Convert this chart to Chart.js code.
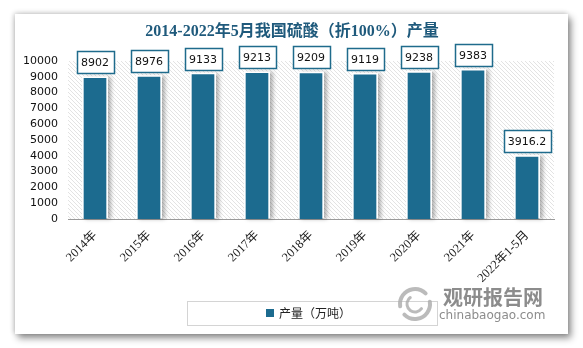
<!DOCTYPE html>
<html>
<head>
<meta charset="utf-8">
<script src="https://cdn.jsdelivr.net/npm/chart.js@4.4.1/dist/chart.umd.min.js"></script>
<style>
  html, body { margin: 0; padding: 0; background: #ffffff; width: 583px; height: 348px; overflow: hidden; }
  #card { position: absolute; left: 15px; top: 14px; width: 553px; height: 320px; background: #ffffff;
          box-shadow: 3px 4px 7px rgba(0,0,0,0.45), -1px -1px 5px rgba(0,0,0,0.2); }
  #c { position: absolute; left: 0; top: 0; }
</style>
</head>
<body>
<div id="card"></div>
<canvas id="c" width="583" height="348"></canvas>
<script>
// Sulphuric acid output (100% basis), 10k tonnes
const titleText = '2014-2022年5月我国硫酸（折100%）产量';
const categories = ['2014年', '2015年', '2016年', '2017年', '2018年', '2019年', '2020年', '2021年', '2022年1-5月'];
const output = [8902, 8976, 9133, 9213, 9209, 9119, 9238, 9383, 3916.2];
const seriesName = '产量（万吨）';
const yTicks = { min: 0, max: 10000, step: 1000 };

const BAR = '#1c6b8f';
const CJK = '"Noto Sans CJK SC"';

// diagonal hatch used behind the bars
function hatchPattern(ctx) {
  const s = 4;
  const p = document.createElement('canvas');
  p.width = s; p.height = s;
  const g = p.getContext('2d');
  g.fillStyle = '#ffffff';
  g.fillRect(0, 0, s, s);
  g.strokeStyle = '#dcdcdc';
  g.lineWidth = 0.8;
  g.beginPath();
  g.moveTo(-1, -1); g.lineTo(s + 1, s + 1);
  g.moveTo(-1, s - 1); g.lineTo(1, s + 1);
  g.moveTo(s - 1, -1); g.lineTo(s + 1, 1);
  g.stroke();
  return ctx.createPattern(p, 'repeat');
}

const decor = {
  id: 'decor',
  beforeDatasetsDraw(chart) {
    const { ctx, chartArea: a } = chart;
    ctx.save();
    ctx.fillStyle = hatchPattern(ctx);
    ctx.fillRect(a.left, a.top, a.right - a.left, a.bottom - a.top);
    // white frame with soft shadow behind every bar
    chart.getDatasetMeta(0).data.forEach(b => {
      const w = b.width;
      ctx.save();
      ctx.shadowColor = 'rgba(0,0,0,0.3)';
      ctx.shadowOffsetX = 3;
      ctx.shadowOffsetY = 1;
      ctx.shadowBlur = 4;
      ctx.fillStyle = '#ffffff';
      ctx.fillRect(b.x - w / 2 - 2, b.y - 2, w + 4, b.base - b.y + 1);
      ctx.restore();
    });
    ctx.restore();
  },
  afterDatasetsDraw(chart) {
    const { ctx } = chart;
    const ds = chart.data.datasets[0];
    ctx.save();
    ctx.font = '11px "DejaVu Sans"';
    ctx.textAlign = 'center';
    ctx.textBaseline = 'middle';
    chart.getDatasetMeta(0).data.forEach((b, i) => {
      const txt = String(ds.data[i]);
      const tw = ctx.measureText(txt).width;
      const bw = Math.round(tw + 9), bh = 22;
      const x0 = Math.round(b.x - bw / 2) + 0.5;
      const y0 = Math.round(b.y - 5 - bh) + 0.5;
      ctx.fillStyle = '#ffffff';
      ctx.fillRect(x0, y0, bw, bh);
      ctx.strokeStyle = '#1f6b8c';
      ctx.lineWidth = 1.5;
      ctx.strokeRect(x0, y0, bw, bh);
      ctx.fillStyle = '#111111';
      ctx.fillText(txt, b.x, y0 + bh / 2 + 0.5);
    });
    ctx.restore();
  },
  afterDraw(chart) {
    const { ctx } = chart;
    ctx.save();
    // title
    ctx.fillStyle = '#1f5a7c';
    ctx.font = 'bold 16px "Liberation Serif", ' + CJK;
    ctx.textAlign = 'center';
    ctx.textBaseline = 'middle';
    ctx.fillText(titleText, 292, 32);

    // legend
    ctx.strokeStyle = '#d4d4d4';
    ctx.lineWidth = 1;
    ctx.strokeRect(187.5, 301.5, 250, 24);
    ctx.fillStyle = chart.data.datasets[0].backgroundColor;
    ctx.fillRect(266, 309, 8, 8);
    ctx.fillStyle = '#222222';
    ctx.font = '12px ' + CJK;
    ctx.textAlign = 'left';
    ctx.fillText(chart.data.datasets[0].label, 279, 313.5);

    // site mark
    ctx.strokeStyle = 'rgba(170,170,170,0.8)';
    ctx.lineCap = 'round';
    ctx.lineWidth = 4;
    ctx.beginPath(); ctx.arc(415, 304, 15, Math.PI * 0.95, Math.PI * 1.75); ctx.stroke();
    ctx.beginPath(); ctx.arc(415, 304, 15, Math.PI * 1.95, Math.PI * 0.75); ctx.stroke();
    ctx.lineWidth = 3;
    ctx.beginPath(); ctx.arc(415, 304, 8, Math.PI * 0.2, Math.PI * 1.3); ctx.stroke();
    ctx.fillStyle = 'rgba(128,128,128,0.9)';
    ctx.font = 'bold 20px ' + CJK;
    ctx.textAlign = 'left';
    ctx.textBaseline = 'middle';
    ctx.fillText('观研报告网', 443, 297);
    ctx.font = '12px "DejaVu Sans"';
    ctx.fillText('chinabaogao.com', 439, 316);
    ctx.restore();
  }
};

new Chart(document.getElementById('c'), {
  type: 'bar',
  data: {
    labels: categories,
    datasets: [{
      label: seriesName,
      data: output,
      backgroundColor: BAR,
      borderWidth: 0,
      barThickness: 22
    }]
  },
  options: {
    responsive: false,
    animation: false,
    layout: { padding: { left: 0, top: 61, right: 29, bottom: 0 } },
    plugins: { legend: { display: false }, title: { display: false }, tooltip: { enabled: false } },
    scales: {
      x: {
        grid: { display: false, drawTicks: false },
        border: { display: true, color: '#9a9a9a', width: 1 },
        ticks: {
          minRotation: 45, maxRotation: 45, padding: 9,
          color: '#1a1a1a',
          font: { family: '"Liberation Serif", ' + CJK, size: 12.5 }
        },
        afterFit(s) { s.height = 129; }
      },
      y: {
        min: yTicks.min, max: yTicks.max,
        grid: { display: false, drawTicks: false },
        border: { display: false },
        ticks: {
          stepSize: yTicks.step, padding: 10, autoSkip: false,
          callback: v => String(v),
          color: '#111111',
          font: { family: '"DejaVu Sans"', size: 11 }
        },
        afterFit(s) { s.width = 68; }
      }
    }
  },
  plugins: [decor]
});
</script>
</body>
</html>
